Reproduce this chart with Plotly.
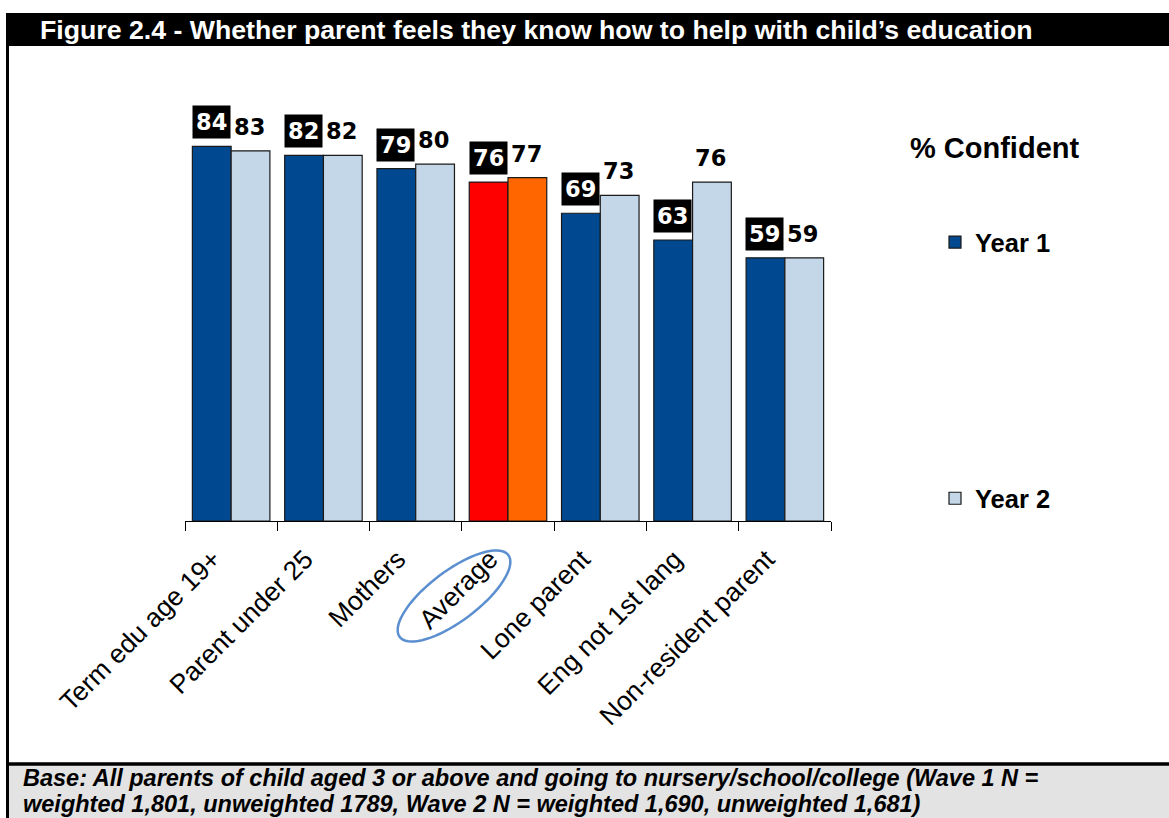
import math
import plotly.graph_objects as go

# ---------------- data ----------------
categories = ["Term edu age 19+", "Parent under 25", "Mothers", "Average",
              "Lone parent", "Eng not 1st lang", "Non-resident parent"]
year1 = [84, 82, 79, 76, 69, 63, 59]
year2 = [83, 82, 80, 77, 73, 76, 59]
series_names = ["Year 1", "Year 2"]
title_text = "Figure 2.4 - Whether parent feels they know how to help with child\u2019s education"
legend_title = "% Confident"
base_line1 = "Base: All parents of child aged 3 or above and going to nursery/school/college (Wave 1 N ="
base_line2 = "weighted 1,801, unweighted 1789, Wave 2 N = weighted 1,690, unweighted 1,681)"
highlight = "Average"

# ---------------- styles ----------------
BLUE1 = "#004990"
BLUE2 = "#C3D7E8"
RED = "#FF0000"
ORANGE = "#FF6600"
ARIAL = "Liberation Sans, Arial, sans-serif"
VERD = "DejaVu Sans, Verdana, sans-serif"

W, H = 1169, 818
ML, MR, MT, MB = 185, 338, 75, 297
PW = W - ML - MR
PH = H - MT - MB


def px2x(px):
    return (px - ML) / PW


def px2y(py):
    return (H - MB - py) / PH


c1 = [RED if c == highlight else BLUE1 for c in categories]
c2 = [ORANGE if c == highlight else BLUE2 for c in categories]

fig = go.Figure()
fig.add_trace(go.Bar(x=categories, y=year1, name=series_names[0], legendgroup="a",
                     marker=dict(color=c1, line=dict(color="#1a1a1a", width=1.2))))
fig.add_trace(go.Bar(x=categories, y=year2, name=series_names[1], legendgroup="b",
                     marker=dict(color=c2, line=dict(color="#1a1a1a", width=1.2))))

ann = []
for c, v in zip(categories, year1):
    ann.append(dict(x=c, y=v, xref="x", yref="y", text=str(v), showarrow=False,
                    xshift=-20, yshift=7, yanchor="bottom", bgcolor="black", borderpad=3,
                    font=dict(family=VERD, size=22.5, color="white", weight="bold")))
for c, v in zip(categories, year2):
    ann.append(dict(x=c, y=v, xref="x", yref="y", text=str(v), showarrow=False,
                    xshift=18, yshift=7, yanchor="bottom", borderpad=3,
                    font=dict(family=VERD, size=22.5, color="black", weight="bold")))

ann.append(dict(x=px2x(38), y=px2y(30), xref="paper", yref="paper", text=title_text,
                showarrow=False, xanchor="left", yanchor="middle",
                font=dict(family=ARIAL, size=26.7, color="white", weight="bold")))
ann.append(dict(x=px2x(908), y=px2y(148), xref="paper", yref="paper", text=legend_title,
                showarrow=False, xanchor="left", yanchor="middle",
                font=dict(family=ARIAL, size=29, color="black", weight="bold")))
ann.append(dict(x=px2x(22), y=px2y(777.5), xref="paper", yref="paper", text=base_line1,
                showarrow=False, xanchor="left", yanchor="middle", borderpad=0,
                font=dict(family=ARIAL, size=23.5, color="black", weight="bold", style="italic")))
ann.append(dict(x=px2x(22), y=px2y(804), xref="paper", yref="paper", text=base_line2,
                showarrow=False, xanchor="left", yanchor="middle", borderpad=0,
                font=dict(family=ARIAL, size=23.5, color="black", weight="bold", style="italic")))

shapes = []
# header bar
shapes.append(dict(type="rect", xref="paper", yref="paper", x0=px2x(6), x1=px2x(W + 2),
                   y0=px2y(13), y1=px2y(46), fillcolor="black", line=dict(width=0), layer="below"))
# footer grey
shapes.append(dict(type="rect", xref="paper", yref="paper", x0=px2x(8), x1=px2x(W + 2),
                   y0=px2y(765), y1=px2y(H + 2), fillcolor="#E3E3E3", line=dict(width=0), layer="below"))
# footer separator
shapes.append(dict(type="line", xref="paper", yref="paper", x0=px2x(6), x1=px2x(W + 2),
                   y0=px2y(764), y1=px2y(764), line=dict(color="black", width=3.5)))
# left border
shapes.append(dict(type="line", xref="paper", yref="paper", x0=px2x(7.5), x1=px2x(7.5),
                   y0=px2y(44), y1=px2y(H + 2), line=dict(color="black", width=3)))

# ellipse around highlighted label
cx, cy, a, b, th = 454, 596, 68, 25, math.radians(37)
pts = []
for i in range(73):
    t = 2 * math.pi * i / 72
    px = cx + a * math.cos(t) * math.cos(th) + b * math.sin(t) * math.sin(th)
    py = cy - a * math.cos(t) * math.sin(th) + b * math.sin(t) * math.cos(th)
    pts.append(f"{px2x(px):.5f},{px2y(py):.5f}")
path = "M " + " L ".join(pts) + " Z"
shapes.append(dict(type="path", xref="paper", yref="paper", path=path,
                   line=dict(color="#5B8FD0", width=2.5)))

fig.update_layout(
    width=W, height=H,
    margin=dict(l=ML, r=MR, t=MT, b=MB),
    paper_bgcolor="white", plot_bgcolor="white",
    barmode="group", bargap=0.16, bargroupgap=0,
    annotations=ann, shapes=shapes,
    showlegend=True,
    legend=dict(x=px2x(935), y=px2y(219), xanchor="left", yanchor="top",
                traceorder="grouped", tracegroupgap=220,
                bgcolor="rgba(0,0,0,0)",
                font=dict(family=ARIAL, size=25.5, color="black", weight="bold")),
    xaxis=dict(showline=True, linecolor="black", linewidth=1.2, ticks="outside",
               tickson="boundaries", ticklen=9, tickcolor="black", tickwidth=1.2,
               tickangle=-45, showgrid=False, ticklabelstandoff=11, ticklabelshift=-18,
               tickfont=dict(family=ARIAL, size=26.5, color="black")),
    yaxis=dict(range=[0, 100], visible=False, showgrid=False),
    font=dict(family=ARIAL),
)

fig.write_html("out.html", config={"displayModeBar": False},
               post_script="document.body.style.margin='0px';document.body.style.overflow='hidden';")
